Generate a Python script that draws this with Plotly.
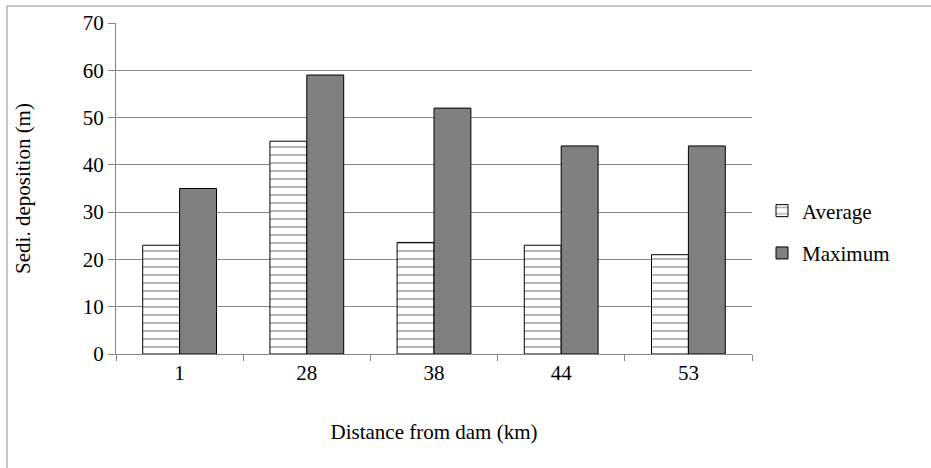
import plotly.graph_objects as go

categories = ["1", "28", "38", "44", "53"]
average = [23, 45, 23.6, 23, 21]
maximum = [35, 59, 52, 44, 44]
y_ticks = [0, 10, 20, 30, 40, 50, 60, 70]

FONT = "Liberation Serif, Times New Roman, serif"
FS = 21
W, H = 931, 468
L, R, T, B = 116, 179, 23, 114
pw, ph = W - L - R, H - T - B

fig = go.Figure()
fig.add_trace(go.Bar(
    name="Average", x=categories, y=average, legendgroup="a",
    marker=dict(color="white", line=dict(color="black", width=1),
                pattern=dict(shape="-", fgcolor="#555555", bgcolor="white",
                             size=8, solidity=0.22)),
))
fig.add_trace(go.Bar(
    name="Maximum", x=categories, y=maximum, legendgroup="b",
    marker=dict(color="#808080", line=dict(color="black", width=1)),
))

def px(x):
    return (x - L) / pw

def py(y):
    return (H - B - y) / ph

fig.add_shape(type="rect", xref="paper", yref="paper",
              x0=px(7), x1=px(960), y0=py(6), y1=py(500),
              line=dict(color="#8c8c8c", width=1), fillcolor="rgba(0,0,0,0)",
              layer="below")

fig.update_layout(
    width=W, height=H,
    margin=dict(l=L, r=R, t=T, b=B),
    paper_bgcolor="white", plot_bgcolor="white",
    barmode="group", bargap=0.42, bargroupgap=0,
    font=dict(family=FONT, size=FS, color="black"),
    legend=dict(x=px(762), y=py(232), yanchor="middle", xanchor="left",
                font=dict(family=FONT, size=FS), itemwidth=30,
                traceorder="grouped", tracegroupgap=12),
    showlegend=True,
)
fig.update_xaxes(
    type="category", showline=True, linecolor="#868686", linewidth=1,
    ticks="outside", tickson="boundaries", ticklen=6, tickcolor="#868686",
    showgrid=False, tickfont=dict(family=FONT, size=FS),
    title=dict(text="Distance from dam (km)", font=dict(family=FONT, size=FS), standoff=40),
)
fig.update_yaxes(
    range=[0, 70], tickvals=y_ticks, showline=True, linecolor="#868686", linewidth=1,
    ticks="outside", ticklen=7, tickcolor="#868686",
    showgrid=True, gridcolor="#868686", gridwidth=1, zeroline=False,
    tickfont=dict(family=FONT, size=FS),
    title=dict(text="Sedi. deposition (m)", font=dict(family=FONT, size=FS), standoff=46),
)

fig.write_html("out.html")
